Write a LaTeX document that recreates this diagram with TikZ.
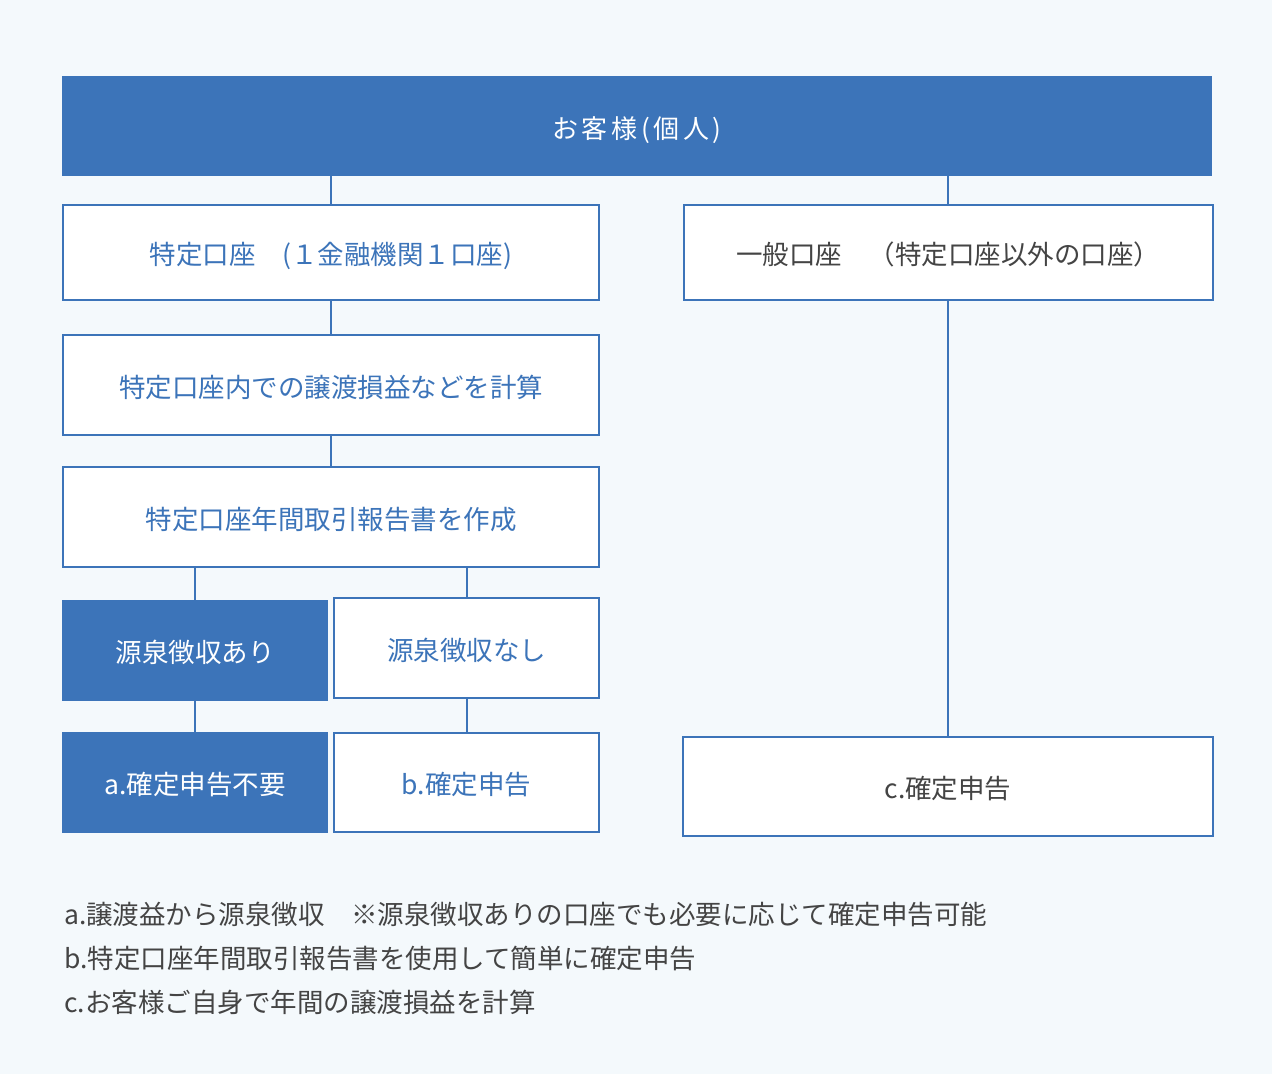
\documentclass[tikz,border=0pt]{standalone}
\usepackage{fontspec}
\setmainfont{Noto Sans CJK JP}
\newfontfamily\titlefont[LetterSpace=14]{Noto Sans CJK JP}
\usetikzlibrary{positioning}
\definecolor{boxblue}{HTML}{3C74B9}
\definecolor{textgray}{HTML}{444444}
\definecolor{bgcol}{HTML}{F4F9FC}

\begin{document}
\begin{tikzpicture}[x=1pt, y=-1pt,
    filled/.style={rectangle, fill=boxblue, text=white, inner sep=0pt, text height=26pt, text depth=2pt, font=\fontsize{26.5}{26.5}\selectfont},
    plain/.style={rectangle, draw=boxblue, line width=2pt, fill=white, text=boxblue, inner sep=0pt, text height=26pt, text depth=2pt, font=\fontsize{26.5}{26.5}\selectfont},
    note/.style={anchor=west, text=textgray, inner sep=0pt, font=\fontsize{26.5}{26.5}\selectfont},
    link/.style={draw=boxblue, line width=2pt}]
      \fill[bgcol] (0,0) rectangle (1272,1074);

      \node[filled, minimum width=1150, minimum height=100, font=\titlefont\fontsize{26}{26}\selectfont] (cust) at (637,126) {お客様(個人)};

      \node[plain, minimum width=536, minimum height=95] (tokutei) at (331,252.5) {特定口座　(１金融機関１口座)};
      \node[plain, minimum width=529, minimum height=95, text=textgray] (ippan) at (948,252.5) {一般口座　（特定口座以外の口座）};
      \node[plain, minimum width=536, minimum height=100] (calc) at (331,385) {特定口座内での譲渡損益などを計算};
      \node[plain, minimum width=536, minimum height=100] (report) at (331,517) {特定口座年間取引報告書を作成};

      \node[filled, minimum width=266, minimum height=101] (with_yes) at (195,650.5) {源泉徴収あり};
      \node[plain, minimum width=265, minimum height=100] (with_no) at (466.5,648) {源泉徴収なし};
      \node[filled, minimum width=266, minimum height=101] (res_a) at (195,782.5) {a.確定申告不要};
      \node[plain, minimum width=265, minimum height=99] (res_b) at (466.5,782.5) {b.確定申告};
      \node[plain, minimum width=530, minimum height=99, text=textgray] (res_c) at (948,786.5) {c.確定申告};

      \draw[link] (tokutei.north |- cust.south) -- (tokutei.north);
      \draw[link] (ippan.north |- cust.south) -- (ippan.north);
      \draw[link] (tokutei) -- (calc);
      \draw[link] (calc) -- (report);
      \draw[link] (with_yes.north |- report.south) -- (with_yes.north);
      \draw[link] (with_no.north |- report.south) -- (with_no.north);
      \draw[link] (with_yes) -- (res_a);
      \draw[link] (with_no) -- (res_b);
      \draw[link] (ippan) -- (res_c);

      \node[note] (note_a) at (64,914) {a.譲渡益から源泉徴収　※源泉徴収ありの口座でも必要に応じて確定申告可能};
      \node[note] (note_b) at (64,958) {b.特定口座年間取引報告書を使用して簡単に確定申告};
      \node[note] (note_c) at (64,1002) {c.お客様ご自身で年間の譲渡損益を計算};
    \end{tikzpicture}
\end{document}
